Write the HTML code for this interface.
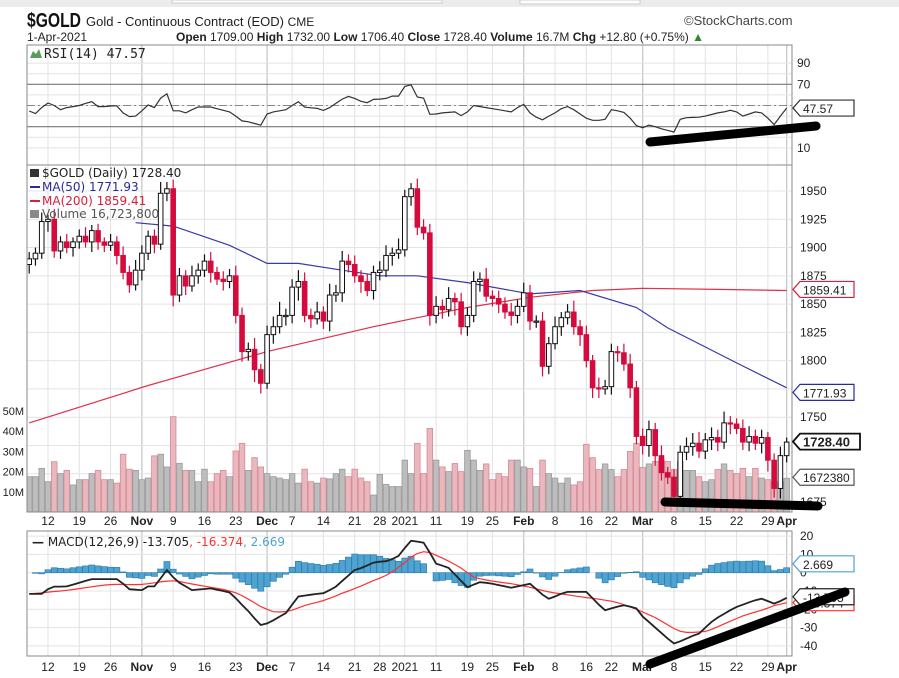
<!DOCTYPE html>
<html><head><meta charset="utf-8"><style>
html,body{margin:0;padding:0;background:#fff;}
svg{display:block;font-family:"Liberation Sans",Arial,sans-serif;}
</style></head><body>
<svg id="chart" width="899" height="678" viewBox="0 0 899 678" xmlns="http://www.w3.org/2000/svg">
<rect x="0" y="0" width="899" height="678" fill="#fff"/>
<rect x="0" y="0" width="899" height="7" fill="#ececec"/>
<rect x="172" y="0" width="270" height="3" fill="#fff" stroke="#ccc"/>
<rect x="520" y="0" width="120" height="4" fill="#fff" stroke="#ccc"/>
<text x="27" y="27" font-size="20" font-weight="bold" fill="#111" textLength="54" lengthAdjust="spacingAndGlyphs">$GOLD</text>
<text x="86" y="26" font-size="13" fill="#222">Gold - Continuous Contract (EOD) <tspan font-size="12">CME</tspan></text>
<text x="27" y="41" font-size="12" fill="#222">1-Apr-2021</text>
<text x="176" y="41" font-size="12" fill="#222"><tspan font-weight="bold">Open</tspan> 1709.00 <tspan font-weight="bold">High</tspan> 1732.00 <tspan font-weight="bold">Low</tspan> 1706.40 <tspan font-weight="bold">Close</tspan> 1728.40 <tspan font-weight="bold">Volume</tspan> 16.7M <tspan font-weight="bold">Chg</tspan> +12.80 (+0.75%) <tspan fill="#2a8a2a">▲</tspan></text>
<text x="684" y="25" font-size="13" fill="#444">©StockCharts.com</text>
<g id="g-grid"></g>
<g id="g-rsi"></g>
<g id="g-main"></g>
<g id="g-macd"></g>
<g id="g-axes"></g>
<g id="g-marks"></g>
</svg>
<script>
// ---- data ----
const closes=[1890,1895,1923,1925,1897,1905,1900,1905,1910,1905,1915,1905,1902,1905,1893,1878,1867,1880,1895,1910,1903,1948,1952,1858,1875,1866,1875,1880,1888,1878,1872,1870,1875,1840,1808,1810,1792,1780,1823,1830,1840,1840,1865,1870,1840,1837,1843,1835,1858,1860,1888,1885,1875,1870,1862,1878,1880,1893,1895,1898,1945,1952,1918,1913,1840,1848,1845,1855,1852,1830,1840,1870,1872,1857,1855,1850,1843,1840,1848,1860,1835,1835,1795,1815,1830,1838,1843,1830,1823,1800,1776,1775,1777,1808,1807,1797,1776,1733,1725,1739,1716,1701,1697,1680,1719,1724,1727,1720,1730,1732,1728,1745,1744,1740,1728,1733,1727,1732,1712,1687,1716,1728];
const wickUp=[6,5,8,4,9,5,7,4,6,8,5,6,4,7,5,8,6,9,7,5,6,10,6,8,7,5,9,6,6,8,5,7,6,9,7,6,10,5,8,9,12,6,7,10,8,6,9,5,10,7,9,6,8,5,7,6,8,9,5,10,6,5,9,7,8,9,6,10,5,8,7,9,6,10,5,7,6,8,6,9,7,5,8,6,9,5,7,10,6,8,5,9,6,7,5,8,9,6,7,8,6,9,5,7,6,8,9,10,6,9,7,10,6,5,8,9,6,7,5,6,8,4];
const wickDn=[8,6,5,9,6,7,5,8,6,5,9,7,6,5,8,6,7,5,9,6,8,5,7,10,6,8,5,7,6,9,5,8,6,7,9,8,11,9,5,8,6,9,7,12,6,8,5,7,9,6,8,7,6,10,5,8,7,6,9,5,6,8,7,6,9,7,8,6,12,7,8,6,9,5,7,8,6,9,7,5,8,6,9,7,5,8,6,7,10,6,9,8,5,7,8,6,9,7,8,10,9,7,6,8,9,7,8,6,7,9,8,6,9,5,7,8,6,9,10,8,9,6];
const volumes=[17.5,17.5,21.6,15,24.9,19,20.6,13.4,16,16,19,20.6,16,16,14.3,28.6,21.2,20.6,16,16.8,27.8,28.6,22.3,47.2,24.1,20.6,20.6,15,21.2,15,19,20.6,17.5,30.2,34,20.6,26.9,22.3,19,17.5,16.8,16,19,14.3,21.2,15,14.3,16.8,16.4,19,21.2,17.5,21.2,16.8,15,8.4,18.6,13.7,12.6,12.6,25.7,19,34,19,41.4,25.7,22.3,20,24,20,30.5,25.7,20.6,23.8,16,19,17.5,25.7,25.7,22.3,21.6,12.6,25.7,19,16.8,14.3,16.8,13.4,15,33.5,26.9,21,23.8,21,17.5,21,30,34,22,23.8,25,25.7,25,21,25,20.6,20.6,17.5,15,16,21,23.8,20.6,19,21.6,17.5,21.6,16.8,16,15,15,16.7];
const ma50Idx=[17,23,32,38,43,50,56,62,70,80,88,97,102,113,121];
const ma50Val=[1922,1919,1902,1886,1886,1880,1875,1875,1869,1859,1862,1847,1829,1798,1776];
const ma200Idx=[0,19,38,55,62,70,80,90,98,110,121];
const ma200Val=[1745,1778,1808,1830,1838,1847,1856,1862,1864,1863,1862];
const rsi=[44.8,42.5,48,52.4,50,46,48,49,50,52,53.6,49,49,49.5,49.7,43,39.5,40,45,50.6,48,57,61,45,45,43,46,48.6,48.6,48.6,47,45.5,44,40,35.5,34.6,33,31.4,42,44,45,46,50,53.6,48.5,47.8,47.3,45.4,48,52,56,58.6,56.7,54,52.6,55.8,56,56.7,58.9,58.9,68,69.5,58,57,41.7,42,43,43.5,44,40.5,44,50,49,48,47,46,45,44,48,51,43,39,36.5,40,43,47,49,46,42,38,36,36,37,46,45,43.5,38,31,29,31.5,30,28,26.5,25,37,38.5,38.8,39,40,41.5,43,44,45.5,44,40,42,44,43,38,32,40,47.6];
const macd=[-11.6,-11.6,-11.6,-9,-7.6,-7.6,-7.5,-6.5,-5.5,-4.5,-3.5,-3.5,-3.5,-3.5,-3.5,-6,-9,-9.3,-9.5,-7.5,-7.5,-3,1.5,-2.5,-5.5,-7.5,-9.5,-9.2,-8.9,-8.6,-9.3,-10,-10.8,-14,-17.6,-21,-25,-28.6,-27.7,-26,-24,-22,-17.5,-13,-12.5,-12,-11.6,-11.2,-9.5,-7.6,-4.5,-1.5,1.5,2.5,4,5.5,6,6.3,7.5,9.2,13.5,17.5,17,16.4,11,5,3.8,2.6,-1,-4.5,-8,-6.5,-5.2,-5.5,-6,-6.8,-7.5,-8.2,-7.5,-6.8,-6,-9,-12,-14.2,-13,-11.5,-10.5,-10.5,-10.5,-10.5,-14,-17.5,-20.5,-19.5,-18.5,-17.8,-18.5,-19.5,-24,-26.9,-30,-33,-36,-38.7,-37.5,-36,-34.5,-33.3,-30,-26.9,-24.5,-22.5,-20.5,-18.7,-17.5,-16.2,-15,-14.2,-15.5,-16.9,-15.5,-13.7];
const signal=[-11.6,-11.3,-11,-10.6,-10.3,-10,-9.6,-9.2,-8.7,-8.2,-7.7,-7.2,-6.8,-6.5,-6.4,-6.4,-6.5,-6.5,-6.4,-6,-5.5,-5,-4.6,-4.4,-4.8,-5.5,-6.2,-6.8,-7.4,-8,-8.5,-9.2,-10,-11,-12.5,-14.5,-16.5,-18.5,-20,-21.3,-21.5,-21.2,-20.5,-19.2,-18,-17,-16.2,-15.2,-14,-12.7,-11.2,-10,-8.7,-7.3,-5.8,-4.3,-3,-1.5,0.5,3,5.5,8.5,10.5,11.5,11,9.5,8,6.3,4.5,2.5,0,-2.4,-3.3,-4,-4.6,-5.1,-5.6,-6,-6.6,-7.3,-8,-8.8,-9.7,-10.5,-11.1,-11.6,-12.1,-12.6,-13.1,-13.6,-14,-14.5,-15,-15.6,-16.4,-17.5,-18.7,-20,-21.5,-23,-24.5,-26.5,-28.5,-30.5,-32,-32.6,-32.6,-32.4,-32.1,-31,-29.5,-28,-26.5,-25,-23.6,-22.5,-21.5,-20.5,-19.3,-18,-17.2,-16.4];
const dateLabels=["12","19","26","Nov","9","16","23","Dec","7","14","21","28","2021","11","19","25","Feb","8","16","22","Mar","8","15","22","29","Apr"];
const dateIdx=[3,8,13,18,23,28,33,38,42,47,52,56,60,65,70,74,79,84,89,93,98,103,108,113,118,121];
const priceTicks=[1675,1700,1725,1750,1775,1800,1825,1850,1875,1900,1925,1950];
const volTicks=[10,20,30,40,50];
const rsiTicks=[10,30,50,70,90];
const rsiTickLabels=["10","","","70","90"];
const macdTicks=[-40,-30,-20,-10,0,10,20];

// ---- scales ----
const L=27,R=792;
const xOf=i=>29.2+6.26*i;
const yP=p=>191+(1950-p)*1.131;
const yV=v=>512-v*2.02;
const yR=r=>105.5-(r-50)*1.06;
const yM=m=>572.7-m*1.83;
const NS="http://www.w3.org/2000/svg";
function mk(tag,attrs,parent){const e=document.createElementNS(NS,tag);for(const k in attrs)e.setAttribute(k,attrs[k]);parent.appendChild(e);return e;}
const gGrid=document.getElementById('g-grid'),gR=document.getElementById('g-rsi'),gM=document.getElementById('g-main'),gC=document.getElementById('g-macd'),gA=document.getElementById('g-axes'),gK=document.getElementById('g-marks');

const defs=mk('defs',{},document.getElementById('chart'));
const cp=mk('clipPath',{id:'clipMain'},defs);mk('rect',{x:L,y:165,width:R-L,height:347},cp);
const cp2=mk('clipPath',{id:'clipMacd'},defs);mk('rect',{x:L,y:531,width:R-L,height:125},cp2);

const panels=[[45,165,'rsi-panel'],[165,512,'price-panel'],[531,656,'macd-panel']];
panels.forEach(p=>{const r=mk('rect',{x:L,y:p[0],width:R-L,height:p[1]-p[0],fill:'none',stroke:'#888','stroke-width':1},gA);

});

dateIdx.forEach((di,k)=>{const x=xOf(di);const month=isNaN(+dateLabels[k]);
[[45,165],[165,512],[531,656]].forEach(s=>{const l=mk('line',{x1:x,x2:x,y1:s[0],y2:s[1],stroke:month?'#c8c8c8':'#e2e2e2','stroke-width':month?1.3:1},gGrid);

});
[521,667].forEach(yy=>{const t=mk('text',{x:x,y:yy+4,'font-size':12,'text-anchor':'middle',fill:'#222','font-weight':month?'bold':'normal'},gA);t.textContent=dateLabels[k];

});});

for(let v=10;v<=90;v+=10){const y=yR(v);const main=(v===30||v===70);
const l=mk('line',{x1:L,x2:R,y1:y,y2:y,stroke:main?'#777':'#e4e4e4','stroke-width':main?1.2:1},gGrid);

}
const mid=mk('line',{x1:L,x2:R,y1:yR(50),y2:yR(50),stroke:'#888','stroke-dasharray':'8,3,2,3'},gGrid);


rsiTicks.forEach((v,k)=>{if(!rsiTickLabels[k])return;const t=mk('text',{x:797,y:yR(v)+4,'font-size':12,fill:'#222'},gA);t.textContent=rsiTickLabels[k];

});
let rp='';rsi.forEach((v,i)=>{rp+=(i?'L':'M')+xOf(i).toFixed(1)+','+yR(v).toFixed(1);});
const rl=mk('path',{d:rp,fill:'none',stroke:'#333','stroke-width':1.2},gR);


const rt=mk('text',{x:44,y:58,'font-size':13,fill:'#222','font-family':'DejaVu Sans Mono, monospace'},gA);rt.textContent='RSI(14) 47.57';


mk('path',{d:'M30,58 L33,51 L36,54 L39,49 L42,58 Z',fill:'#5a9a5a'},gA);

priceTicks.forEach(p=>{const y=yP(p);const l=mk('line',{x1:L,x2:R,y1:y,y2:y,stroke:'#e4e4e4'},gGrid);


const t=mk('text',{x:800,y:y+4,'font-size':12,fill:'#222'},gA);t.textContent=String(p);

});
volTicks.forEach(v=>{const t=mk('text',{x:24,y:yV(v)+4,'font-size':11,'text-anchor':'end',fill:'#222'},gA);t.textContent=v+'M';

});

const gMain=mk('g',{'clip-path':'url(#clipMain)'},gM);
volumes.forEach((v,i)=>{const down=i>0&&closes[i]<closes[i-1];const x=xOf(i);
const b=mk('rect',{x:x-2.8,y:yV(v),width:5.6,height:512-yV(v),fill:down?'#e9b7bd':'#bdbdbd',stroke:down?'#d58a94':'#9a9a9a','stroke-width':0.8},gMain);

});

function sparsePath(idx,val,yf){let d='';idx.forEach((ix,k)=>{d+=(k?'L':'M')+xOf(ix).toFixed(1)+','+yf(val[k]).toFixed(1);});return d;}
const m200=mk('path',{d:sparsePath(ma200Idx,ma200Val,yP),fill:'none',stroke:'#e0304a','stroke-width':1.2},gMain);


const m50=mk('path',{d:sparsePath(ma50Idx,ma50Val,yP),fill:'none',stroke:'#3a3aa8','stroke-width':1.2},gMain);



closes.forEach((c,i)=>{const o=i>0?closes[i-1]:c-5;const down=c<o;const col=down?'#d50b3d':'#111';const x=xOf(i);
const hi=Math.max(o,c)+wickUp[i],lo=Math.min(o,c)-wickDn[i];
const w=mk('line',{x1:x,x2:x,y1:yP(hi),y2:yP(lo),stroke:col,'stroke-width':1.2},gMain);


const top=yP(Math.max(o,c)),bot=yP(Math.min(o,c));
const b=mk('rect',{x:x-2.3,y:top,width:4.6,height:Math.max(1.2,bot-top),fill:down?col:'#fff',stroke:col,'stroke-width':1},gMain);

});

const leg=[['$GOLD (Daily) 1728.40','#222',177],['MA(50) 1771.93','#2a2a9a',191],['MA(200) 1859.41','#d8203a',205],['Volume 16,723,800','#555',218]];
leg.forEach((l,k)=>{const t=mk('text',{x:42,y:l[2],'font-size':12,fill:l[1],'font-family':'DejaVu Sans, sans-serif'},gA);t.textContent=l[0];


if(k===1||k===2)mk('line',{x1:30,x2:40,y1:l[2]-4,y2:l[2]-4,stroke:l[1],'stroke-width':2},gA);});
mk('rect',{x:30,y:169,width:9,height:8,fill:'#333'},gA);
mk('rect',{x:30,y:210,width:9,height:8,fill:'#888'},gA);

macdTicks.forEach(v=>{const y=yM(v);const l=mk('line',{x1:L,x2:R,y1:y,y2:y,stroke:'#e4e4e4'},gGrid);


const t=mk('text',{x:800,y:y+4,'font-size':12,fill:'#222'},gA);t.textContent=String(v);

});
const gMacd=mk('g',{'clip-path':'url(#clipMacd)'},gC);
macd.forEach((m,i)=>{const h=m-signal[i];const y0=yM(0),y1=yM(h);
const b=mk('rect',{x:xOf(i)-3,y:Math.min(y0,y1),width:6,height:Math.abs(y1-y0),fill:'#4fa3d1',stroke:'#2f7fae','stroke-width':0.7},gMacd);

});
let mp='',sp='';macd.forEach((m,i)=>{mp+=(i?'L':'M')+xOf(i).toFixed(1)+','+yM(m).toFixed(1);sp+=(i?'L':'M')+xOf(i).toFixed(1)+','+yM(signal[i]).toFixed(1);});
const sl=mk('path',{d:sp,fill:'none',stroke:'#ff3030','stroke-width':1.2},gMacd);


const ml=mk('path',{d:mp,fill:'none',stroke:'#222','stroke-width':1.8},gMacd);


const mt=mk('text',{x:32,y:546,'font-size':12,fill:'#222','font-family':'DejaVu Sans, sans-serif'},gA);
mt.innerHTML='<tspan font-weight="bold">—</tspan> MACD(12,26,9) -13.705<tspan fill="#ff3030">, -16.374</tspan><tspan fill="#4fa3d1">, 2.669</tspan>';



function tag(y,txt,col,bold,name){const g=mk('g',{},gK);


const w=bold?60:54;
mk('path',{d:`M793,${y} L800,${y-8} L${800+w},${y-8} L${800+w},${y+8} L800,${y+8} Z`,fill:'#fff',stroke:col,'stroke-width':bold?1.8:1.2},g);
const t=mk('text',{x:803,y:y+5,'font-size':bold?13:12,fill:'#222','font-weight':bold?'bold':'normal'},g);t.textContent=txt;}
tag(yR(47.57),'47.57','#333',false,'rsi-value-tag');
tag(yP(1859.41)-4,'1859.41','#d8203a',false,'ma200-value-tag');
tag(yP(1771.93),'1771.93','#2a2a9a',false,'ma50-value-tag');
tag(yV(16.72)-1,'1672380','#555',false,'volume-value-tag');
tag(yP(1728.4),'1728.40','#111',true,'price-value-tag');
tag(yM(2.669)-4,'2.669','#4fa3d1',false,'histogram-value-tag');
tag(yM(-16.374),'-16.374','#ff3030',false,'signal-value-tag');
tag(yM(-13.705)-1,'-13.705','#222',false,'macd-value-tag');

[[650,142,816,126,'rsi-trendline'],[665,502,818,506,'price-support-line'],[650,664,845,592,'macd-trendline']].forEach(a=>{
const l=mk('line',{x1:a[0],y1:a[1],x2:a[2],y2:a[3],stroke:'#000','stroke-width':9,'stroke-linecap':'round'},gK);

});
</script>
</body></html>
